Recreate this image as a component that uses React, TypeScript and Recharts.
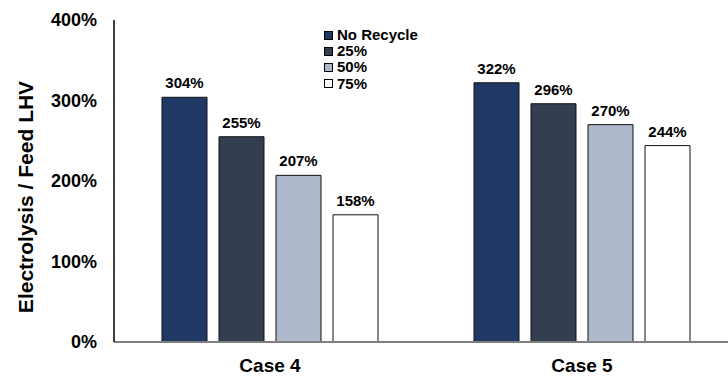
import React from "react";
import { BarChart, Bar, XAxis, YAxis, Legend, LabelList } from "recharts";

const categories = ["Case 4", "Case 5"];
const noRecycle = [304, 322];
const recycle25 = [255, 296];
const recycle50 = [207, 270];
const recycle75 = [158, 244];
const yTicks = [0, 100, 200, 300, 400];

const series = [
  { key: "noRecycle", name: "No Recycle", fill: "#1f3864" },
  { key: "r25", name: "25%", fill: "#333f50" },
  { key: "r50", name: "50%", fill: "#adb9ca" },
  { key: "r75", name: "75%", fill: "#ffffff" },
];

const data = categories.map((c, i) => ({
  name: c,
  noRecycle: noRecycle[i],
  r25: recycle25[i],
  r50: recycle50[i],
  r75: recycle75[i],
}));

const FONT = "'Liberation Sans', Arial, sans-serif";

const YTick = (props: any) => {
  const { x, y, payload } = props;
  return (
    <text x={x} y={y} textAnchor="end" dominantBaseline="central" fontFamily={FONT} fontWeight="bold" fontSize={18} fill="#000">
      {payload.value}%
    </text>
  );
};

const XTick = (props: any) => {
  const { x, y, payload } = props;
  return (
    <text x={x} y={y} textAnchor="middle" dominantBaseline="central" fontFamily={FONT} fontWeight="bold" fontSize={19} fill="#000">
      {payload.value}
    </text>
  );
};

// keep legend rows in series order
const order = (v: string) => series.findIndex((s) => s.name === v);

const LegendBox = (props: any) => {
  const items = [...(props.payload || [])].sort((a: any, b: any) => order(a.value) - order(b.value));
  return (
    <div style={{ fontFamily: FONT, fontWeight: "bold", fontSize: 15, lineHeight: "16.2px", color: "#000" }}>
      {items.map((it: any) => (
        <div key={it.value} style={{ display: "flex", alignItems: "center" }}>
          <span
            style={{
              display: "inline-block",
              width: 7,
              height: 7,
              background: it.color,
              border: "1px solid #000",
              marginRight: 4,
            }}
          />
          {it.value}
        </div>
      ))}
    </div>
  );
};

export default function App() {
  return (
    <div style={{ position: "absolute", left: 0, top: 0, width: 728, height: 376, overflow: "hidden", background: "#fff" }}>
      <BarChart
        width={738}
        height={376}
        data={data}
        margin={{ top: 20, right: 0, bottom: 0, left: 0 }}
        barSize={45}
        barGap={12}
      >
        <XAxis
          dataKey="name"
          height={34}
          tickLine={false}
          tickSize={0}
          tickMargin={23}
          axisLine={{ stroke: "#7f7f7f", strokeWidth: 2 }}
          tick={<XTick />}
        />
        <YAxis
          width={114}
          domain={[0, 400]}
          ticks={yTicks}
          interval={0}
          tickLine={false}
          tickSize={0}
          tickMargin={17}
          axisLine={{ stroke: "#000", strokeWidth: 1.5 }}
          tick={<YTick />}
          label={{
            content: () => (
              <text
                x={25}
                y={197}
                transform="rotate(-90 25 197)"
                textAnchor="middle"
                dominantBaseline="central"
                fontFamily={FONT}
                fontWeight="bold"
                fontSize={21}
                fill="#000"
              >
                Electrolysis / Feed LHV
              </text>
            ),
          }}
        />
        <Legend
          layout="vertical"
          verticalAlign="middle"
          align="center"
          wrapperStyle={{ left: 324, top: 27, width: "auto", height: "auto" }}
          content={<LegendBox />}
        />
        {series.map((s) => (
          <Bar key={s.key} dataKey={s.key} name={s.name} fill={s.fill} stroke="#111" strokeWidth={1} isAnimationActive={false}>
            <LabelList
              dataKey={s.key}
              position="top"
              offset={9}
              formatter={(v: any) => `${v}%`}
              style={{ fontFamily: FONT, fontWeight: "bold", fontSize: 15, fill: "#000" }}
            />
          </Bar>
        ))}
      </BarChart>
    </div>
  );
}
